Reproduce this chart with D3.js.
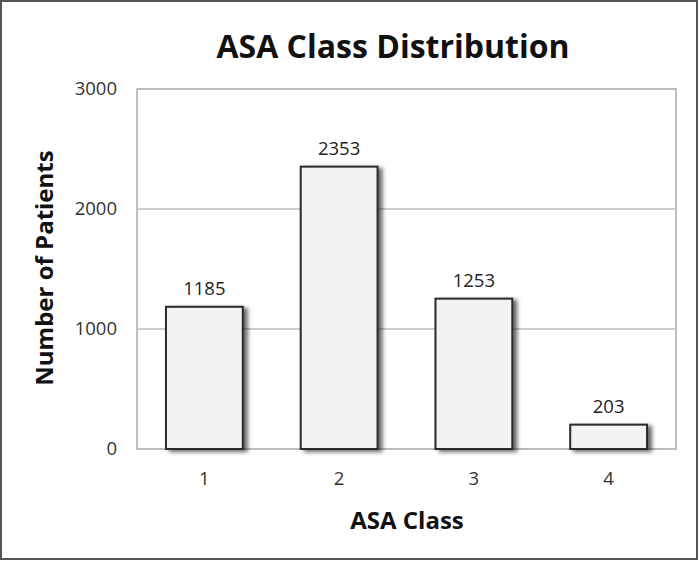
<!DOCTYPE html>
<html><head><meta charset="utf-8">
<script src="https://cdn.jsdelivr.net/npm/d3@7"></script>
<style>body{margin:0;background:#fff}svg{display:block}</style>
</head><body>
<script>
const categories = ["1","2","3","4"];
const values = [1185, 2353, 1253, 203];
const yTicks = [0, 1000, 2000, 3000];
const title = "ASA Class Distribution";
const xTitle = "ASA Class";
const yTitle = "Number of Patients";

const W = 699, H = 561;
const m = {left:137, top:89, right:23, bottom:112};
const svg = d3.select("body").append("svg").attr("width", W).attr("height", H);
const font = "'Open Sans', sans-serif";

const defs = svg.append("defs");
const f = defs.append("filter").attr("id","sh").attr("x","-20%").attr("y","-20%").attr("width","150%").attr("height","150%");
f.append("feGaussianBlur").attr("in","SourceAlpha").attr("stdDeviation",2);
f.append("feOffset").attr("dx",4).attr("dy",2).attr("result","ob");
f.append("feComponentTransfer").append("feFuncA").attr("type","linear").attr("slope",0.6);
const mg = f.append("feMerge"); mg.append("feMergeNode"); mg.append("feMergeNode").attr("in","SourceGraphic");

svg.append("rect").attr("x",1).attr("y",1).attr("width",W-3).attr("height",H-3)
  .attr("fill","#fff").attr("stroke","#555").attr("stroke-width",2);

const x = d3.scaleBand().domain(categories).range([m.left, W-m.right]).paddingInner(0.43).paddingOuter(0.215);
const y = d3.scaleLinear().domain([0,3000]).range([H-m.bottom, m.top]);

svg.append("rect").attr("x",m.left).attr("y",m.top).attr("width",W-m.right-m.left).attr("height",H-m.bottom-m.top)
  .attr("fill","none").attr("stroke","#aaa").attr("stroke-width",1.5);

svg.append("g").selectAll("line").data(yTicks).join("line")
  .attr("x1",m.left).attr("x2",W-m.right).attr("y1",d=>y(d)).attr("y2",d=>y(d))
  .attr("stroke","#bbb").attr("stroke-width",1.5);

const yAxis = svg.append("g").attr("transform",`translate(${m.left},0)`)
  .call(d3.axisLeft(y).tickValues(yTicks).tickFormat(d3.format("d")).tickSize(0).tickPadding(20));
yAxis.select(".domain").remove();
yAxis.selectAll("text").attr("font-family",font).attr("font-size",18.5).attr("fill","#333");

const xAxis = svg.append("g").attr("transform",`translate(0,${H-m.bottom})`)
  .call(d3.axisBottom(x).tickSize(0).tickPadding(23));
xAxis.select(".domain").remove();
xAxis.selectAll("text").attr("font-family",font).attr("font-size",18.5).attr("fill","#333");

svg.append("g").selectAll("rect").data(values).join("rect")
  .attr("x",(d,i)=>x(categories[i])).attr("width",x.bandwidth())
  .attr("y",d=>y(d)).attr("height",d=>y(0)-y(d))
  .attr("fill","#f2f2f2").attr("stroke","#2a2a2a").attr("stroke-width",2)
  .attr("filter","url(#sh)");

svg.append("g").selectAll("text").data(values).join("text")
  .attr("x",(d,i)=>x(categories[i])+x.bandwidth()/2).attr("y",d=>y(d)-12)
  .attr("text-anchor","middle").attr("font-family",font).attr("font-size",18.5).attr("fill","#222")
  .text(d=>d);

svg.append("text").attr("x",393).attr("y",58).attr("text-anchor","middle")
  .attr("font-family",font).attr("font-weight","bold").attr("font-size",32).attr("fill","#111").text(title);
svg.append("text").attr("x",407).attr("y",529).attr("text-anchor","middle")
  .attr("font-family",font).attr("font-weight","bold").attr("font-size",24).attr("fill","#111").text(xTitle);
svg.append("text").attr("transform","translate(53,268) rotate(-90)").attr("text-anchor","middle")
  .attr("font-family",font).attr("font-weight","bold").attr("font-size",24).attr("fill","#111").text(yTitle);
</script>
</body></html>
